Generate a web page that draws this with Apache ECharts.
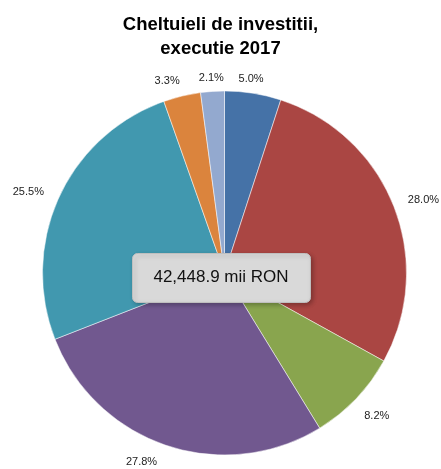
<!DOCTYPE html>
<html>
<head>
<meta charset="utf-8">
<script src="https://cdn.jsdelivr.net/npm/echarts@6/dist/echarts.min.js"></script>
<style>
  html, body { margin: 0; padding: 0; background: #fff; }
  #chart { width: 441px; height: 469px; }
</style>
</head>
<body>
<div id="chart"></div>
<script>
// clockwise from 12 o'clock
const categories = ['A', 'B', 'C', 'D', 'E', 'F', 'G']
const shares = [5.0, 28.0, 8.2, 27.8, 25.5, 3.3, 2.1]
const colors = ['#4572A7', '#AA4643', '#89A54E', '#71588F', '#4198AF', '#DB843D', '#93A9CF']
const totalLabel = '42,448.9 mii RON'

// Excel spreads some labels sideways
const labelNudge = { 0: [-5, 0], 2: [0, -2], 3: [-18, -5], 4: [-2, 3], 5: [-10, 0] }

const chart = echarts.init(document.getElementById('chart'))

const total = shares.reduce((a, b) => a + b, 0)
let acc = 0
const labelData = categories.map((c, i) => {
  const mid = (acc + shares[i] / 2) / total * Math.PI * 2
  acc += shares[i]
  // push wide labels out a little more at the sides
  const extra = 16 * Math.abs(Math.sin(mid))
  const down = Math.cos(mid) > -0.2 ? 5 : 0
  const n = labelNudge[i] || [0, 0]
  return {
    name: c,
    value: shares[i],
    label: {
      offset: [extra * Math.sin(mid) + n[0], -extra * Math.cos(mid) + down + n[1]]
    }
  }
})

const option = {
  backgroundColor: '#fff',
  animation: false,
  title: {
    text: 'Cheltuieli de investitii,\nexecutie 2017',
    left: 'center',
    top: 8,
    textStyle: {
      fontFamily: 'Liberation Sans',
      fontWeight: 'bold',
      fontSize: 18.5,
      lineHeight: 24,
      color: '#000'
    }
  },
  graphic: [
    {
      type: 'rect',
      left: 132,
      top: 253,
      shape: { width: 178, height: 49, r: 5 },
      style: {
        fill: '#D9D9D9',
        stroke: '#BFBFBF',
        lineWidth: 1,
        shadowBlur: 4,
        shadowOffsetX: 2,
        shadowOffsetY: 2,
        shadowColor: 'rgba(0,0,0,0.25)'
      },
      z: 10
    },
    {
      type: 'text',
      x: 221,
      y: 277.5,
      style: {
        text: totalLabel,
        fontFamily: 'Liberation Sans',
        fontSize: 17,
        fill: '#111',
        align: 'center',
        verticalAlign: 'middle'
      },
      z: 11
    }
  ],
  series: [
    {
      type: 'pie',
      center: [224.5, 273],
      radius: 182,
      startAngle: 90,
      clockwise: true,
      z: 2,
      data: categories.map((c, i) => ({
        name: c,
        value: shares[i],
        itemStyle: { color: colors[i] }
      })),
      label: { show: false },
      labelLine: { show: false },
      itemStyle: { borderColor: '#fff', borderWidth: 0.5 },
      emphasis: { disabled: true }
    },
    {
      // transparent ring that only carries the percentage labels
      type: 'pie',
      center: [224.5, 273],
      radius: [0, 392],
      startAngle: 90,
      clockwise: true,
      silent: true,
      z: 1,
      data: labelData,
      itemStyle: { color: 'transparent', borderWidth: 0 },
      label: {
        show: true,
        position: 'inside',
        rotate: 0,
        formatter: p => shares[p.dataIndex].toFixed(1) + '%',
        fontFamily: 'Liberation Sans',
        fontSize: 11,
        color: '#222'
      },
      labelLine: { show: false },
      emphasis: { disabled: true }
    }
  ]
}

chart.setOption(option)
</script>
</body>
</html>
